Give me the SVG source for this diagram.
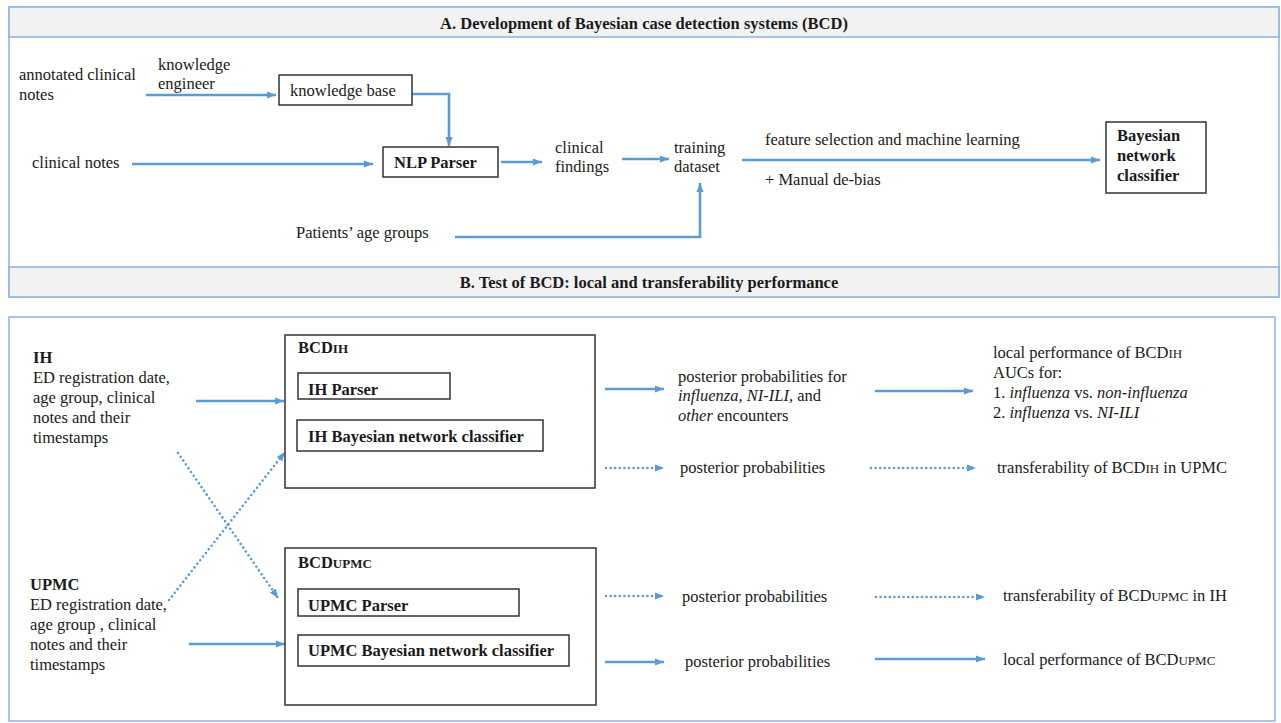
<svg xmlns="http://www.w3.org/2000/svg" width="1281" height="723" viewBox="0 0 1281 723">
<style>
text{font-family:"Liberation Serif","Times New Roman",serif;font-size:16.5px;fill:#1a1a1a}
.b{font-weight:bold}
.i{font-style:italic}
.sc{font-size:13px}
.frame{fill:#fff;stroke:#8db3e2;stroke-width:1.5}
.band{fill:#f2f2f2;stroke:#8db3e2;stroke-width:1.5}
.box{fill:#fff;stroke:#333;stroke-width:1.5}
.c{fill:none;stroke:#5b9bd5;stroke-width:2.6}
.d{fill:none;stroke:#5b9bd5;stroke-width:2.6;stroke-dasharray:0 4.6;stroke-linecap:round}
</style>
<defs>
<marker id="ah" viewBox="0 0 10 8" refX="10" refY="4" markerWidth="9" markerHeight="7.5" markerUnits="userSpaceOnUse" orient="auto">
<path d="M0,0 L10,4 L0,8 z" fill="#5b9bd5"/>
</marker>
</defs>

<g id="frame-a">
<rect class="frame" x="9" y="7" width="1270" height="290"/>
<rect class="band" x="9" y="7" width="1270" height="30"/>
<rect class="band" x="9" y="267" width="1270" height="30"/>
<text class="b" x="644" y="29" text-anchor="middle">A. Development of Bayesian case detection systems (BCD)</text>
<text class="b" x="649" y="288" text-anchor="middle">B. Test of BCD: local and transferability performance</text>
</g>
<g id="frame-b">
<rect class="frame" x="9" y="317" width="1266" height="404"/>
</g>

<g id="connectors">
<line class="c" x1="146" y1="95" x2="276" y2="95" marker-end="url(#ah)"/>
<path class="c" d="M412,94 H449 V146" marker-end="url(#ah)"/>
<line class="c" x1="132" y1="164" x2="373" y2="164" marker-end="url(#ah)"/>
<line class="c" x1="501" y1="162" x2="542" y2="162" marker-end="url(#ah)"/>
<line class="c" x1="622" y1="159" x2="669" y2="159" marker-end="url(#ah)"/>
<path class="c" d="M455,237 H700 V183" marker-end="url(#ah)"/>
<line class="c" x1="742" y1="160" x2="1100" y2="160" marker-end="url(#ah)"/>

<line class="c" x1="196" y1="401" x2="284" y2="401" marker-end="url(#ah)"/>
<line class="c" x1="189" y1="644" x2="285" y2="644" marker-end="url(#ah)"/>
<line class="d" x1="178" y1="453" x2="278" y2="598" marker-end="url(#ah)"/>
<line class="d" x1="169" y1="600" x2="285" y2="452" marker-end="url(#ah)"/>

<line class="c" x1="605" y1="389" x2="664" y2="389" marker-end="url(#ah)"/>
<line class="c" x1="875" y1="391" x2="973" y2="391" marker-end="url(#ah)"/>
<line class="d" x1="606" y1="468" x2="664" y2="468" marker-end="url(#ah)"/>
<line class="d" x1="871" y1="468" x2="976" y2="468" marker-end="url(#ah)"/>
<line class="d" x1="606" y1="596" x2="664" y2="596" marker-end="url(#ah)"/>
<line class="d" x1="876" y1="597" x2="985" y2="597" marker-end="url(#ah)"/>
<line class="c" x1="605" y1="662" x2="664" y2="662" marker-end="url(#ah)"/>
<line class="c" x1="875" y1="659" x2="985" y2="659" marker-end="url(#ah)"/>
</g>

<g id="annotated-notes"><text x="19" y="80">annotated clinical</text><text x="19" y="100">notes</text></g>
<g id="knowledge-engineer"><text x="158" y="70">knowledge</text><text x="158" y="89">engineer</text></g>
<g id="knowledge-base"><rect class="box" x="279" y="75" width="133" height="30"/><text x="290" y="96">knowledge base</text></g>
<g id="clinical-notes"><text x="32" y="168">clinical notes</text></g>
<g id="nlp-parser"><rect class="box" x="383" y="147" width="115" height="30"/><text class="b" x="394" y="168">NLP Parser</text></g>
<g id="clinical-findings"><text x="555" y="153">clinical</text><text x="555" y="172">findings</text></g>
<g id="training-dataset"><text x="674" y="153">training</text><text x="674" y="172">dataset</text></g>
<g id="age-groups"><text x="296" y="238">Patients’ age groups</text></g>
<g id="ml-label"><text x="765" y="145">feature selection and machine learning</text><text x="765" y="185">+ Manual de-bias</text></g>
<g id="bn-classifier"><rect class="box" x="1106" y="122" width="100" height="71"/><text class="b" x="1117" y="141">Bayesian</text><text class="b" x="1117" y="161">network</text><text class="b" x="1117" y="181">classifier</text></g>

<g id="ih-input">
<text class="b" x="33" y="363">IH</text>
<text x="33" y="383">ED registration date,</text>
<text x="33" y="403">age group, clinical</text>
<text x="33" y="423">notes and their</text>
<text x="33" y="443">timestamps</text>
</g>
<g id="upmc-input">
<text class="b" x="30" y="590">UPMC</text>
<text x="30" y="610">ED registration date,</text>
<text x="30" y="630">age group , clinical</text>
<text x="30" y="650">notes and their</text>
<text x="30" y="670">timestamps</text>
</g>

<g id="bcd-ih">
<rect class="box" x="285" y="335" width="310" height="153"/>
<text class="b" x="298" y="353">BCD<tspan class="sc">IH</tspan></text>
<rect class="box" x="298" y="373" width="152" height="26"/>
<text class="b" x="308" y="395">IH Parser</text>
<rect class="box" x="297" y="420" width="246" height="31"/>
<text class="b" x="308" y="442">IH Bayesian network classifier</text>
</g>
<g id="bcd-upmc">
<rect class="box" x="285" y="548" width="311" height="157"/>
<text class="b" x="298" y="568">BCD<tspan class="sc">UPMC</tspan></text>
<rect class="box" x="298" y="589" width="221" height="27"/>
<text class="b" x="308" y="611">UPMC Parser</text>
<rect class="box" x="298" y="635" width="271" height="31"/>
<text class="b" x="308" y="656">UPMC Bayesian network classifier</text>
</g>

<g id="pp-ih-local">
<text x="678" y="382">posterior probabilities for</text>
<text x="678" y="401"><tspan class="i">influenza</tspan>, <tspan class="i">NI-ILI</tspan>, and</text>
<text x="678" y="421"><tspan class="i">other</tspan> encounters</text>
</g>
<g id="local-ih">
<text x="993" y="358">local performance of BCD<tspan class="sc">IH</tspan></text>
<text x="993" y="378">AUCs for:</text>
<text x="993" y="398">1. <tspan class="i">influenza</tspan> vs. <tspan class="i">non-influenza</tspan></text>
<text x="993" y="418">2. <tspan class="i">influenza</tspan> vs. <tspan class="i">NI-ILI</tspan></text>
</g>
<g id="pp-ih-transfer"><text x="680" y="473">posterior probabilities</text></g>
<g id="transfer-ih"><text x="997" y="473">transferability of BCD<tspan class="sc">IH</tspan> in UPMC</text></g>
<g id="pp-upmc-transfer"><text x="682" y="602">posterior probabilities</text></g>
<g id="transfer-upmc"><text x="1003" y="601">transferability of BCD<tspan class="sc">UPMC</tspan> in IH</text></g>
<g id="pp-upmc-local"><text x="685" y="667">posterior probabilities</text></g>
<g id="local-upmc"><text x="1003" y="665">local performance of BCD<tspan class="sc">UPMC</tspan></text></g>
</svg>
